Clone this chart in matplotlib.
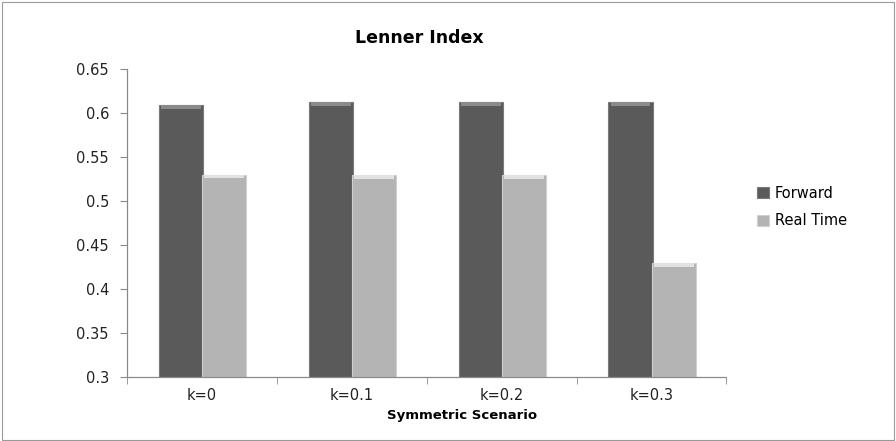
import matplotlib
matplotlib.use("Agg")
import matplotlib.pyplot as plt
import numpy as np
from matplotlib.patches import Rectangle

categories = ["k=0", "k=0.1", "k=0.2", "k=0.3"]
forward = [0.609, 0.612, 0.612, 0.612]
real_time = [0.530, 0.529, 0.529, 0.429]
yticks = [0.3, 0.35, 0.4, 0.45, 0.5, 0.55, 0.6, 0.65]

fig = plt.figure(figsize=(8.96, 4.41), dpi=100)
fig.patch.set_facecolor("white")
fig.add_artist(Rectangle((0.002, 0.002), 0.996, 0.994, transform=fig.transFigure,
                         fill=False, edgecolor="#9a9a9a", linewidth=0.8))
ax = fig.add_axes([0.1417, 0.1451, 0.669, 0.6984])

x = np.arange(len(categories))
w = 0.295
off = 0.14
fc_dark, fc_light = "#5a5a5a", "#b4b4b4"
ax.bar(x - off, [v - 0.3 for v in forward], w, bottom=0.3, color=fc_dark,
       edgecolor="#7a7a7a", linewidth=0.8, label="Forward", zorder=2)
ax.bar(x + off + 0.01, [v - 0.3 for v in real_time], w, bottom=0.3, color=fc_light,
       edgecolor="#d0d0d0", linewidth=0.8, label="Real Time", zorder=2)
# bevel caps
ax.bar(x - off, [0.004] * len(x), w * 0.9, bottom=[v - 0.004 for v in forward],
       color="#8a8a8a", linewidth=0, zorder=3)
ax.bar(x + off + 0.01, [0.004] * len(x), w * 0.9, bottom=[v - 0.004 for v in real_time],
       color="#e2e2e2", linewidth=0, zorder=3)

ax.set_xlim(-0.5, len(categories) - 0.5)
ax.set_ylim(0.3, 0.65)
ax.set_yticks(yticks)
ax.set_yticklabels([("%g" % t) for t in yticks], fontsize=10.5, color="#222222")
ax.set_xticks(x)
ax.set_xticklabels(categories, fontsize=10.5, color="#222222")
ax.set_xticks(np.arange(-0.5, len(categories)), minor=True)
ax.tick_params(axis="x", which="major", length=0, pad=8)
ax.tick_params(axis="x", which="minor", length=5, color="#8a8a8a", direction="out")
ax.tick_params(axis="y", length=5, color="#8a8a8a", direction="out", pad=8)
for s in ["top", "right"]:
    ax.spines[s].set_visible(False)
for s in ["left", "bottom"]:
    ax.spines[s].set_color("#8a8a8a")
    ax.spines[s].set_linewidth(0.9)

fig.text(0.432, 0.057, "Symmetric Scenario", ha="left", va="center",
         fontsize=9.5, fontweight="bold")
fig.text(0.468, 0.913, "Lenner Index", ha="center", va="center",
         fontsize=12.5, fontweight="bold")

leg = ax.legend(loc="center left", bbox_to_anchor=(1.03, 0.552), frameon=False,
                fontsize=10.5, handlelength=0.8, handleheight=0.8, handletextpad=0.4,
                labelspacing=0.85)

fig.savefig("out.png", dpi=100)
